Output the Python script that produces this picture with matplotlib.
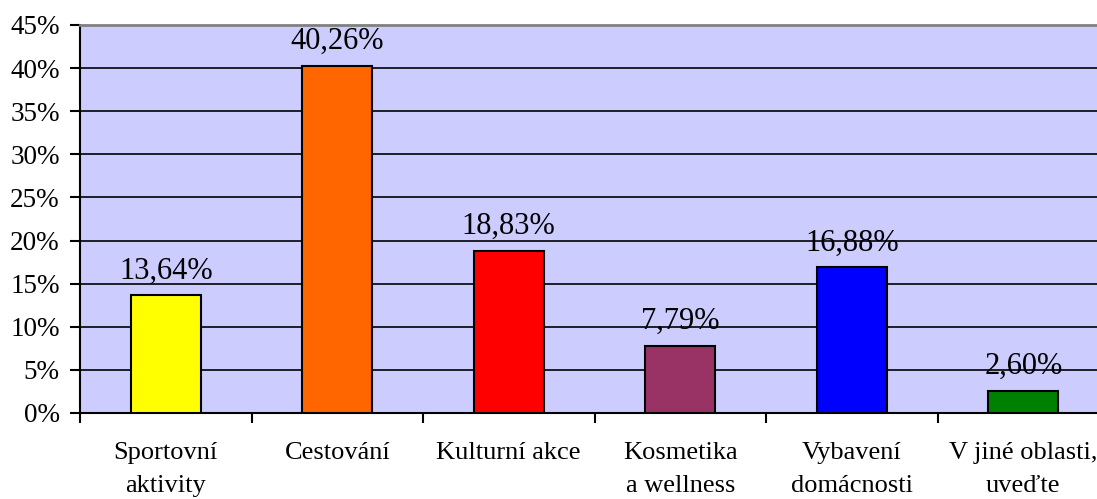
import matplotlib
matplotlib.use("Agg")
import matplotlib.pyplot as plt
from matplotlib.ticker import MultipleLocator, FuncFormatter

categories = ["Sportovní\naktivity", "Cestování", "Kulturní akce",
              "Kosmetika\na wellness", "Vybavení\ndomácnosti", "V jiné oblasti,\nuveďte"]
values = [13.64, 40.26, 18.83, 7.79, 16.88, 2.60]
colors = ["#FFFF00", "#FF6600", "#FF0000", "#993366", "#0000FF", "#008000"]

plt.rcParams['font.family'] = ['Liberation Serif', 'DejaVu Serif']

fig = plt.figure(figsize=(10.97, 4.99), dpi=100)
ax = fig.add_axes([80/1097, 1-413/499, 1029/1097, 388/499])
ax.set_facecolor("#CCCCFF")

x = range(len(values))
ax.bar(x, values, width=0.41, color=colors, edgecolor="black", linewidth=1.5, zorder=3)

for xi, v in zip(x, values):
    ax.annotate("{:.2f}%".format(v).replace(".", ","), (xi, v),
                xytext=(0, 7), textcoords="offset points",
                ha="center", va="bottom", fontsize=22, zorder=4)

ax.set_ylim(0, 45)
ax.set_xlim(-0.5, len(values)-0.5)
ax.yaxis.set_major_locator(MultipleLocator(5))
ax.yaxis.set_major_formatter(FuncFormatter(lambda v, p: "{:.0f}%".format(v)))
ax.yaxis.grid(True, color="black", linewidth=1.2, zorder=1)
ax.set_axisbelow(True)

ax.set_xticks([i - 0.5 for i in range(len(values)+1)])
ax.set_xticklabels([])
ax.set_xticks(list(x), minor=True)
ax.set_xticklabels(categories, minor=True, fontsize=19, linespacing=1.65)
ax.tick_params(axis="x", which="minor", length=0, pad=21)
ax.tick_params(axis="x", which="major", length=7, width=1.5, direction="out")
ax.tick_params(axis="y", length=7, width=1.5, labelsize=19.5, pad=7.5)

ax.spines["top"].set_color("#808080")
ax.spines["top"].set_linewidth(2)
ax.spines["right"].set_color("#808080")
ax.spines["left"].set_linewidth(1.5)
ax.spines["bottom"].set_linewidth(1.5)

fig.savefig("out.png", dpi=100)
